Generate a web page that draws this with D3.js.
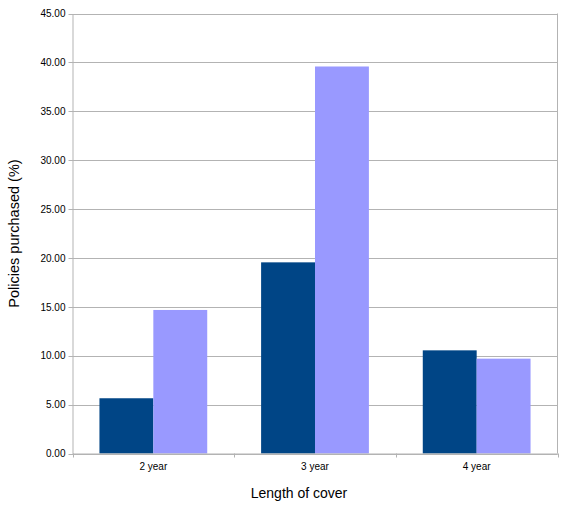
<!DOCTYPE html>
<html><head><meta charset="utf-8">
<script src="https://cdn.jsdelivr.net/npm/d3@7"></script>
<style>body{margin:0;background:#fff}svg{display:block;font-family:"Liberation Sans",Arial,sans-serif}</style>
</head><body>
<svg id="c" width="572" height="510"></svg>
<script>
const categories = ["2 year","3 year","4 year"];
const seriesA = [5.65, 19.55, 10.55];
const seriesB = [14.68, 39.58, 9.70];
const yTicks = [0,5,10,15,20,25,30,35,40,45];
const colors = ["#004586","#9999ff"];
const xTitle = "Length of cover";
const yTitle = "Policies purchased (%)";

const svg = d3.select("#c");
const L = 72.5, R = 557.5, T = 13.5, B = 453.5;
const x = d3.scaleBand().domain(categories).range([L,R]).paddingInner(0).paddingOuter(0);
const inner = d3.scaleBand().domain([0,1]).range([0,x.bandwidth()]).paddingOuter(0.5).paddingInner(0);
const y = d3.scaleLinear().domain([0,45]).range([B,T]);

// gridlines
svg.append("g").selectAll("line").data(yTicks).join("line")
  .attr("x1",L-4).attr("x2",R).attr("y1",d=>Math.round(y(d))+0.5).attr("y2",d=>Math.round(y(d))+0.5)
  .attr("stroke","#b3b3b3").attr("stroke-width",1);
// right border
svg.append("line").attr("x1",R).attr("x2",R).attr("y1",T).attr("y2",B).attr("stroke","#b3b3b3");

// bars
const series = [seriesA, seriesB];
series.forEach((s,i)=>{
  svg.append("g").selectAll("rect").data(s).join("rect")
    .attr("x",(d,j)=>x(categories[j])+inner(i))
    .attr("width",inner.bandwidth())
    .attr("y",d=>y(d)).attr("height",d=>y(0)-y(d))
    .attr("fill",colors[i]);
});

// y axis
const ya = d3.axisLeft(y).tickValues(yTicks).tickFormat(d3.format(".2f")).tickSize(0).tickPadding(7);
const yg = svg.append("g").attr("transform",`translate(${L},0)`).call(ya);
yg.select(".domain").attr("stroke","#b3b3b3");
yg.selectAll("text").attr("font-size","10px").attr("fill","#000").attr("font-family","Liberation Sans, Arial, sans-serif");

// x axis
const xa = d3.axisBottom(x).tickSize(0).tickPadding(9);
const xg = svg.append("g").attr("transform",`translate(0,${B})`).call(xa);
xg.select(".domain").attr("stroke","#b3b3b3");
xg.selectAll("text").attr("font-size","10px").attr("fill","#000").attr("font-family","Liberation Sans, Arial, sans-serif");
// boundary ticks between categories
const bounds = categories.map(c=>x(c)).concat([R]);
svg.append("g").selectAll("line").data(bounds).join("line")
  .attr("x1",d=>Math.round(d)+0.5).attr("x2",d=>Math.round(d)+0.5).attr("y1",B).attr("y2",B+4)
  .attr("stroke","#b3b3b3");

// titles
svg.append("text").attr("x",299).attr("y",498).attr("text-anchor","middle")
  .attr("font-size","14px").text(xTitle);
svg.append("text").attr("transform",`translate(19,${(T+B)/2}) rotate(-90)`).attr("text-anchor","middle")
  .attr("font-size","14.5px").text(yTitle);
</script>
</body></html>
